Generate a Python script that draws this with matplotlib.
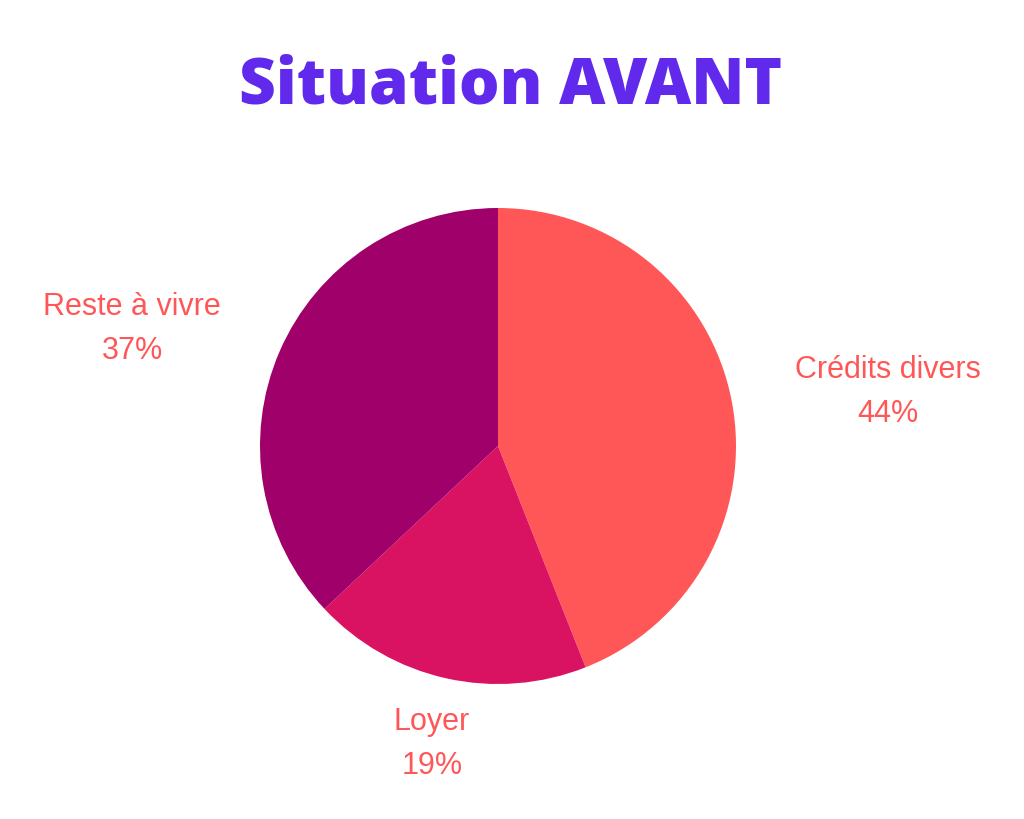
import matplotlib
matplotlib.use("Agg")
import matplotlib.pyplot as plt

categories = ["Crédits divers", "Loyer", "Reste à vivre"]
values = [44, 19, 37]
colors = ["#FF5757", "#D91262", "#A0006A"]
# label anchor positions (pixels from top-left)
label_pos = [(888, 392), (432, 744), (132, 329)]

W, H = 1024, 819
fig = plt.figure(figsize=(W / 100, H / 100), dpi=100)
ax = fig.add_axes([0, 0, 1, 1])
ax.set_xlim(0, W)
ax.set_ylim(0, H)
ax.set_aspect("equal")
ax.axis("off")

ax.pie(values, colors=colors, startangle=90, counterclock=False,
       center=(498, H - 446), radius=238, frame=True,
       wedgeprops=dict(linewidth=0))
ax.set_xlim(0, W)
ax.set_ylim(0, H)
ax.axis("off")

for cat, v, (x, y) in zip(categories, values, label_pos):
    ax.text(x, H - y, f"{cat}\n{v}%", ha="center", va="center",
            color="#FF5757", fontsize=22, family="Liberation Sans",
            linespacing=1.62)

fig.text(511 / W, 1 - 86 / H, "Situation AVANT", ha="center", va="center",
         color="#6129EC", fontsize=46, family="Open Sans", fontweight="heavy")

fig.savefig("out.png", dpi=100, facecolor="white")
